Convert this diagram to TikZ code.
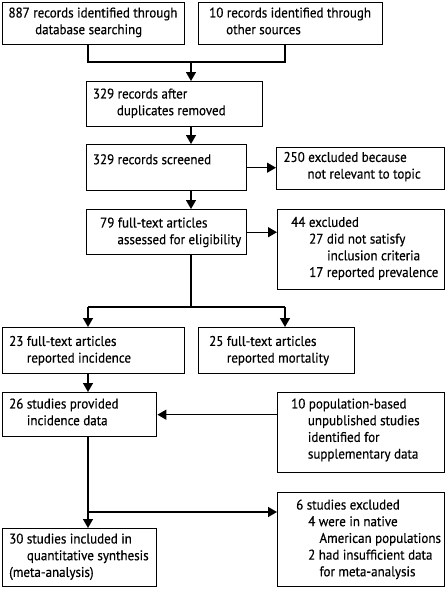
\documentclass[tikz,border=0pt]{standalone}
\usepackage{fontspec}
\setmainfont{PT Sans}[FakeStretch=0.93,FakeBold=0.4]
\usetikzlibrary{arrows.meta}
\tikzset{
  box/.style={draw, line width=1.4pt, inner sep=0pt, anchor=north west},
  txt/.style={anchor=north west, inner sep=0pt, align=left, font=\fontsize{14}{16.7}\selectfont},
  conn/.style={line width=1.4pt},
  arr/.style={line width=1.4pt, -{Triangle[width=10pt,length=9pt]}},
}
\begin{document}
\begin{tikzpicture}[x=1pt,y=-1pt]
\useasboundingbox (0,0) rectangle (445,589);
% boxes
\node[box, minimum width=182pt, minimum height=42pt] (A) at (2,2) {};
\node[box, minimum width=184pt, minimum height=42pt] (B) at (198,2) {};
\node[box, minimum width=176pt, minimum height=45pt] (C) at (86,81) {};
\node[box, minimum width=160pt, minimum height=46pt] (D) at (86,144) {};
\node[box, minimum width=168pt, minimum height=42pt] (E) at (276,147) {};
\node[box, minimum width=160pt, minimum height=45pt] (F) at (86,209) {};
\node[box, minimum width=167pt, minimum height=80pt] (G) at (277,209) {};
\node[box, minimum width=182pt, minimum height=46pt] (H) at (2,327) {};
\node[box, minimum width=156pt, minimum height=46pt] (I) at (198,327) {};
\node[box, minimum width=154pt, minimum height=44pt] (J) at (2,392) {};
\node[box, minimum width=167pt, minimum height=80pt] (K) at (277,392) {};
\node[box, minimum width=154pt, minimum height=58pt] (L) at (2,528) {};
\node[box, minimum width=167pt, minimum height=94pt] (M) at (277,492) {};
% texts
\node[txt] (At) at ([shift={(6.3,3.6)}]A.north west) {\strut 887 records identified through\\\strut\hspace*{26.7pt}database searching};
\node[txt] (Bt) at ([shift={(11,3.6)}]B.north west) {\strut 10 records identified through\\\strut\hspace*{17pt}other sources};
\node[txt] (Ct) at ([shift={(6.7,5.6)}]C.north west) {\strut 329 records after\\\strut\hspace*{24pt}duplicates removed};
\node[txt] (Dt) at ([shift={(6.7,8.3)}]D.north west) {\strut 329 records screened};
\node[txt] (Et) at ([shift={(7.3,3.0)}]E.north west) {\strut 250 excluded because\\\strut\hspace*{24pt}not relevant to topic};
\node[txt] (Ft) at ([shift={(14,6.6)}]F.north west) {\strut 79 full-text articles\\\strut\hspace*{17.3pt}assessed for eligibility};
\node[txt] (Gt) at ([shift={(14,6.0)}]G.north west) {\strut 44 excluded\\\strut\hspace*{18pt}27 did not satisfy\\\strut\hspace*{36pt}inclusion criteria\\\strut\hspace*{18pt}17 reported prevalence};
\node[txt] (Ht) at ([shift={(7,7.0)}]H.north west) {\strut 23 full-text articles\\\strut\hspace*{17.7pt}reported incidence};
\node[txt] (It) at ([shift={(11,7.0)}]I.north west) {\strut 25 full-text articles\\\strut\hspace*{17.7pt}reported mortality};
\node[txt] (Jt) at ([shift={(7,4.6)}]J.north west) {\strut 26 studies provided\\\strut\hspace*{17.7pt}incidence data};
\node[txt] (Kt) at ([shift={(14,4.6)}]K.north west) {\strut 10 population-based\\\strut\hspace*{16.7pt}unpublished studies\\\strut\hspace*{16.7pt}identified for\\\strut\hspace*{16.7pt}supplementary data};
\node[txt] (Lt) at ([shift={(7,3.6)}]L.north west) {\strut 30 studies included in\\\strut\hspace*{17.7pt}quantitative synthesis\\\strut (meta-analysis)};
\node[txt] (Mt) at ([shift={(19,5.6)}]M.north west) {\strut 6 studies excluded\\\strut\hspace*{12pt}4 were in native\\\strut\hspace*{23.3pt}American populations\\\strut\hspace*{12pt}2 had insufficient data\\\strut\hspace*{23.3pt}for meta-analysis};
% junction coordinates
\coordinate (jA) at (88,62);
\coordinate (jB) at (285,62);
\coordinate (jC) at (191,62);
\coordinate (jF) at (191,307);
\coordinate (jH) at (88,307);
\coordinate (jI) at (285,307);
\coordinate (jM) at (88,512);
% connectors
\draw[conn] (A.south -| jA) -- (jA) -- (jB) -- (B.south -| jB);
\draw[arr] (jC) -- (C.north -| jC);
\draw[arr] (C.south -| jC) -- (D.north -| jC);
\draw[arr] (D.east) -- (E.west |- D.east);
\draw[arr] (D.south -| jC) -- (F.north -| jC);
\draw[arr] (F.east) -- (G.west |- F.east);
\draw[conn] (F.south -| jF) -- (jF);
\draw[conn] (jH) -- (jI);
\draw[arr] (jH) -- (H.north -| jH);
\draw[arr] (jI) -- (I.north -| jI);
\draw[arr] (H.south -| jH) -- (J.north -| jH);
\draw[arr] (K.west |- J.east) -- (J.east);
\draw[arr] (J.south -| jM) -- (L.north -| jM);
\draw[arr] (jM) -- (M.west |- jM);
\end{tikzpicture}
\end{document}
